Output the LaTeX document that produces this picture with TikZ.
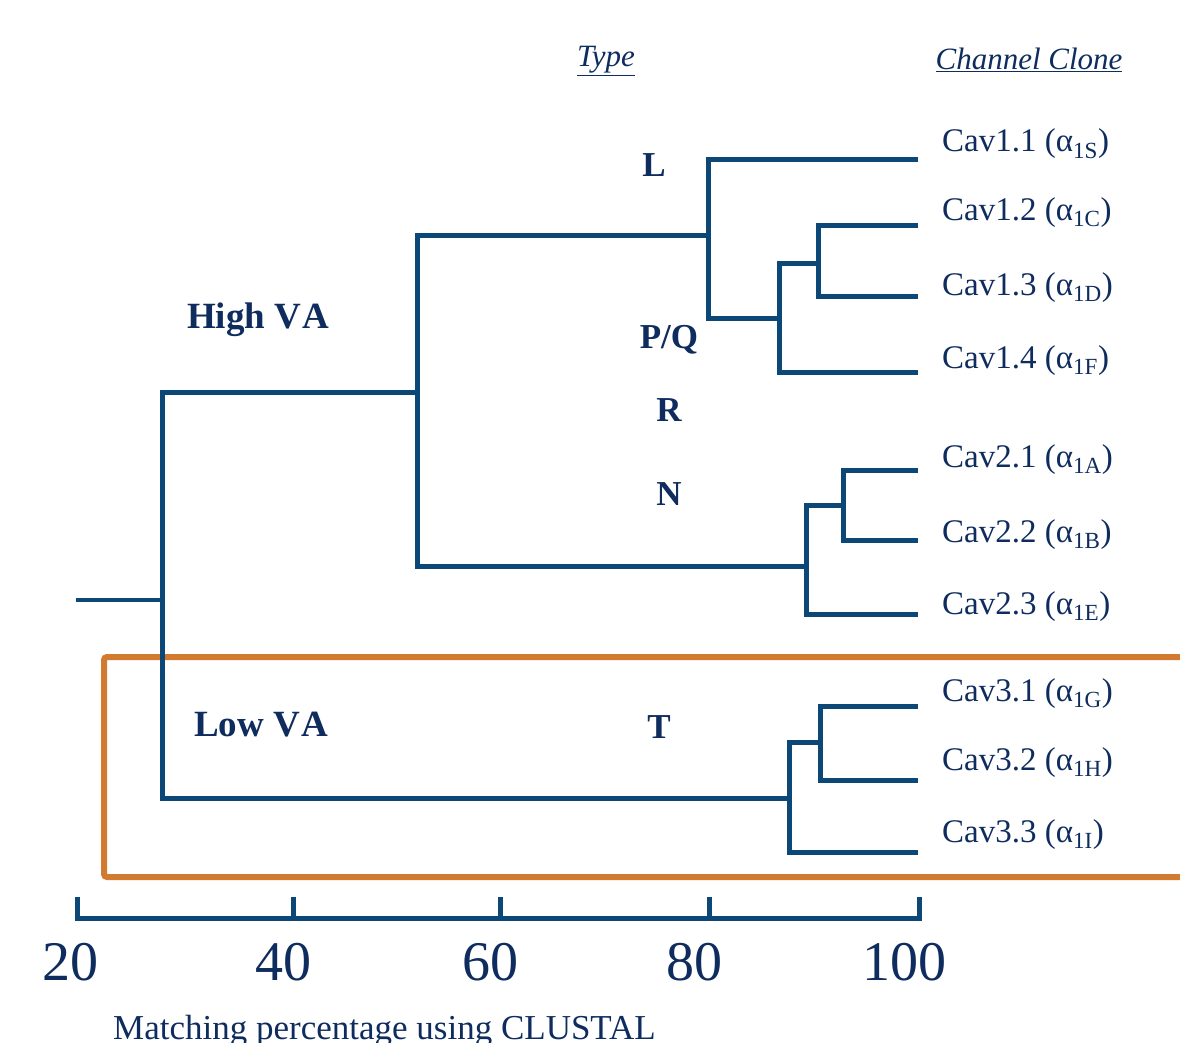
\documentclass[tikz,border=0pt]{standalone}
\usepackage{fontspec}
\setmainfont{Liberation Serif}
\usetikzlibrary{positioning}
\definecolor{navy}{HTML}{0F2C5E}
\definecolor{branch}{HTML}{0B4877}
\definecolor{boxorange}{HTML}{D27A30}
\tikzset{
  br/.style={draw=branch,line width=5pt,line join=miter},
  clone/.style={anchor=base west,inner sep=0pt,text=navy,font=\fontsize{33}{36}\selectfont},
  chtype/.style={inner sep=0pt,text=navy,font=\fontsize{35}{38}\selectfont\bfseries},
  tick/.style={text=navy,font=\fontsize{56}{60}\selectfont}
}
\begin{document}
\begin{tikzpicture}[x=1pt,y=-1pt]
  \useasboundingbox (0,0) rectangle (1180,1043);
  % headings
  \node[text=navy,font=\fontsize{31}{34}\selectfont\itshape] (htype) at (606,61) {\underline{Type}};
  \node[text=navy,font=\fontsize{31}{34}\selectfont\itshape] (hclone) at (1029,60) {\underline{Channel Clone}};
  % low voltage box
  \draw[boxorange,line width=6pt,rounded corners=3pt] (1195,657) -- (104,657) -- (104,877) -- (1195,877);
  % leaves
  \coordinate (l11) at (918,160); \coordinate (l12) at (918,225);
  \coordinate (l13) at (918,296); \coordinate (l14) at (918,372);
  \coordinate (l21) at (918,470); \coordinate (l22) at (918,540);
  \coordinate (l23) at (918,614);
  \coordinate (l31) at (918,706); \coordinate (l32) at (918,780);
  \coordinate (l33) at (918,852);
  % tree
  \draw[br,line width=4pt] (76,600) -- (162,600);
  \draw[br] (417,392) -- (162,392) -- (162,798) -- (789,798);
  \draw[br] (708,235) -- (417,235) -- (417,566) -- (806,566);
  \draw[br] (l11) -- (708,160) -- (708,318) -- (779,318);
  \draw[br] (818,263) -- (779,263) -- (779,372) -- (l14);
  \draw[br] (l12) -- (818,225) -- (818,296) -- (l13);
  \draw[br] (843,505) -- (806,505) -- (806,614) -- (l23);
  \draw[br] (l21) -- (843,470) -- (843,540) -- (l22);
  \draw[br] (820,742) -- (789,742) -- (789,852) -- (l33);
  \draw[br] (l31) -- (820,706) -- (820,780) -- (l32);
  % clone labels
  \node[clone] (c11) at (942,152) {Cav1.1 (α\textsubscript{1S})};
  \node[clone] (c12) at (942,220) {Cav1.2 (α\textsubscript{1C})};
  \node[clone] (c13) at (942,295) {Cav1.3 (α\textsubscript{1D})};
  \node[clone] (c14) at (942,368) {Cav1.4 (α\textsubscript{1F})};
  \node[clone] (c21) at (942,467) {Cav2.1 (α\textsubscript{1A})};
  \node[clone] (c22) at (942,542) {Cav2.2 (α\textsubscript{1B})};
  \node[clone] (c23) at (942,614) {Cav2.3 (α\textsubscript{1E})};
  \node[clone] (c31) at (942,701) {Cav3.1 (α\textsubscript{1G})};
  \node[clone] (c32) at (942,770) {Cav3.2 (α\textsubscript{1H})};
  \node[clone] (c33) at (942,842) {Cav3.3 (α\textsubscript{1I})};
  % channel types
  \node[chtype] (tl) at (654,165) {L};
  \node[chtype] (tpq) at (669,340) {P/Q};
  \node[chtype] (tr) at (669,410) {R};
  \node[chtype] (tn) at (669,494) {N};
  \node[chtype] (tt) at (659,727) {T};
  \node[chtype,font=\fontsize{37}{40}\selectfont\bfseries] (high) at (258,320) {High V\kern1pt A};
  \node[chtype,font=\fontsize{37}{40}\selectfont\bfseries] (low) at (261,725) {Low V\kern1pt A};
  % axis
  \draw[br] (77,897) -- (77,918) -- (919,918) -- (919,897);
  \foreach \x in {293,500,709} \draw[br] (\x,897) -- (\x,918);
  \node[tick] (a20) at (70,962) {20};
  \node[tick] (a40) at (283,962) {40};
  \node[tick] (a60) at (490,962) {60};
  \node[tick] (a80) at (694,962) {80};
  \node[tick] (a100) at (904,962) {100};
  \node[anchor=west,inner sep=0pt,text=navy,font=\fontsize{35}{38}\selectfont] (xlab) at (113,1031) {Matching percentage using CLUSTAL};
\end{tikzpicture}
\end{document}
